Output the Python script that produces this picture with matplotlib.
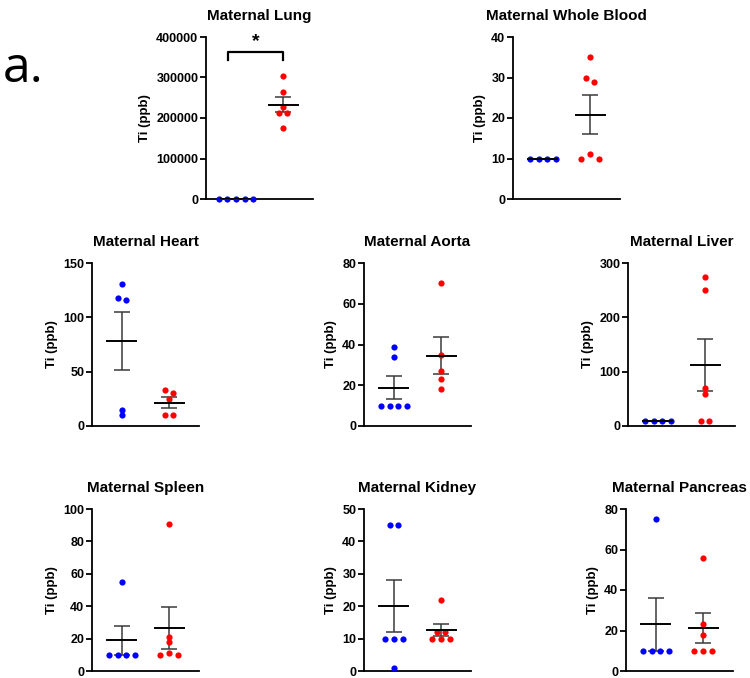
import numpy as np
from matplotlib import pyplot as plt

plt.rcParams['font.family'] = ['Liberation Sans', 'DejaVu Sans']
plt.rcParams['font.weight'] = 'bold'

# values (Ti, ppb); blue = control, red = exposed
lung_ctrl = [10, 10, 10, 10, 10]
lung_exp = [302600, 264000, 228000, 213000, 213000, 176000]
blood_ctrl = [10, 10, 10, 10]
blood_exp = [35, 30, 29, 11, 10, 10]
heart_ctrl = [131, 118, 116, 15, 10]
heart_exp = [33, 30, 25, 10, 10]
aorta_ctrl = [39, 34, 10, 10, 10, 10]
aorta_exp = [70, 35, 27, 23, 18]
liver_ctrl = [10, 10, 10, 10]
liver_exp = [274, 250, 69.5, 59, 10, 10]
spleen_ctrl = [55, 10, 10, 10, 10]
spleen_exp = [91, 21, 17.7, 11, 10, 10]
kidney_ctrl = [45, 45, 10, 10, 10, 1]
kidney_exp = [22, 12, 12, 10, 10, 10]
pancreas_ctrl = [75, 10, 10, 10, 10]
pancreas_exp = [56, 23, 17.8, 10, 10, 10]

W, H = 750, 678
fig = plt.figure(figsize=(W / 100, H / 100), dpi=100)


def px_axes(left, top, width, height):
    return fig.add_axes([left / W, 1 - (top + height) / H, width / W, height / H])


XMIN, XMAX = -0.636, 1.636
AX_W = 107


def swarm(vals, ymax, ax_h):
    # group points that would overlap, spread each group sideways
    thr = 5 * ymax / ax_h
    groups = []
    for v in sorted(vals, reverse=True):
        if groups and groups[-1][0] - v < thr:
            groups[-1].append(v)
        else:
            groups.append([v])
    offs, ys = [], []
    for g in groups:
        n = len(g)
        if n % 2 == 1:
            slots = [0]
            for k in range(1, n // 2 + 1):
                slots += [-k, k]
        else:
            slots = sorted(np.arange(n) - (n - 1) / 2)
        offs += list(slots)
        ys += g
    return np.array(offs), np.array(ys)


def panel(left, top, height, title, ctrl, exp, ymax, step):
    ax = px_axes(left, top, AX_W, height)
    unit = (XMAX - XMIN) / AX_W  # data units per pixel
    for i, (vals, col) in enumerate([(ctrl, 'blue'), (exp, 'red')]):
        offs, ys = swarm(vals, ymax, height)
        ax.scatter(i + offs * 8.7 * unit, ys, s=20, color=col, lw=0,
                   zorder=3, clip_on=False)
        m = np.mean(vals)
        sem = np.std(vals, ddof=1) / np.sqrt(len(vals))
        ax.plot([i - 14.5 * unit, i + 14.5 * unit], [m, m], color='black',
                lw=1.4, zorder=4)
        ax.errorbar(i, m, yerr=sem, fmt='none', ecolor='#3a3a3a',
                    elinewidth=1.1, capsize=5.8, capthick=1.1, zorder=2)
    ax.set_xlim(XMIN, XMAX)
    ax.set_ylim(0, ymax)
    ax.set_yticks(np.arange(0, ymax + step / 2, step))
    ax.set_xticks([])
    for s in ['top', 'right']:
        ax.spines[s].set_visible(False)
    for s in ['left', 'bottom']:
        ax.spines[s].set_linewidth(1.3)
    ax.tick_params(axis='y', direction='out', length=4, width=1.3,
                   labelsize=9, pad=1.5)
    for lab in ax.get_yticklabels():
        lab.set_fontweight('bold')
    ax.set_title(title, fontsize=11, fontweight='bold', pad=12)
    ax.set_ylabel('Ti (ppb)', fontsize=9.5, fontweight='bold', labelpad=4)
    return ax


ax_lung = panel(206, 37, 162, 'Maternal Lung', lung_ctrl, lung_exp, 400000, 100000)
panel(513, 37, 162, 'Maternal Whole Blood', blood_ctrl, blood_exp, 40, 10)
panel(92, 263, 163, 'Maternal Heart', heart_ctrl, heart_exp, 150, 50)
panel(364, 263, 163, 'Maternal Aorta', aorta_ctrl, aorta_exp, 80, 20)
panel(628, 263, 163, 'Maternal Liver', liver_ctrl, liver_exp, 300, 100)
panel(92, 509, 162, 'Maternal Spleen', spleen_ctrl, spleen_exp, 100, 20)
panel(364, 509, 162, 'Maternal Kidney', kidney_ctrl, kidney_exp, 50, 10)
panel(626, 509, 162, 'Maternal Pancreas', pancreas_ctrl, pancreas_exp, 80, 20)

# significance bracket on the lung panel
ax_lung.plot([-0.17, -0.17, 1.0, 1.0], [342000, 364000, 364000, 342000],
             color='black', lw=1.6, clip_on=False)
ax_lung.text(0.415, 368000, '*', ha='center', va='bottom', fontsize=14,
             fontweight='bold')

fig.text(0.004, 0.935, 'a.', fontsize=36, fontweight='normal',
         family='Open Sans', va='top', ha='left')

fig.savefig('out.png', dpi=100)
